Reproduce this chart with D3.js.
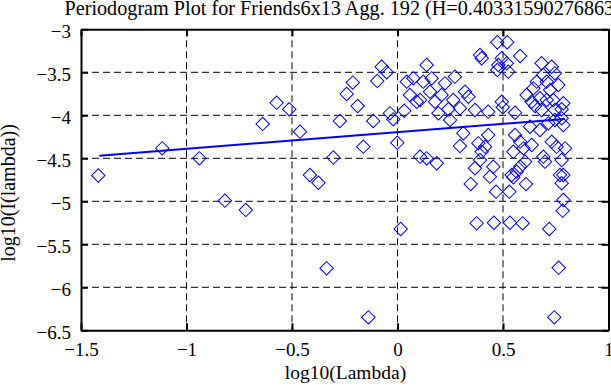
<!DOCTYPE html>
<html>
<head>
<meta charset="utf-8">
<script src="https://cdn.jsdelivr.net/npm/d3@7"></script>
<style>
  body { margin: 0; background: #fff; }
  svg { display: block; }
  text { font-family: "Liberation Serif", "Times New Roman", serif; fill: #000; }
</style>
</head>
<body>
<div id="chart"></div>
<script>
// periodogram points
const logLambda = [
  -1.418, -1.115, -0.939, -0.818, -0.719, -0.639, -0.573, -0.513, -0.462, -0.415,
  -0.375, -0.336, -0.304, -0.273, -0.241, -0.212, -0.189, -0.162, -0.138, -0.115,
  -0.096, -0.075, -0.051, -0.036, -0.020, -0.001, 0.015, 0.032, 0.044, 0.059,
  0.075, 0.091, 0.107, 0.107, 0.122, 0.138, 0.138, 0.154, 0.162, 0.178,
  0.186, 0.194, 0.209, 0.225, 0.241, 0.249, 0.264, 0.272, 0.296, 0.296,
  0.312, 0.320, 0.336, 0.347, 0.367, 0.367, 0.375, 0.383, 0.391, 0.399,
  0.399, 0.391, 0.415, 0.430, 0.430, 0.438, 0.454, 0.457, 0.467, 0.473,
  0.478, 0.473, 0.494, 0.494, 0.499, 0.518, 0.520, 0.525, 0.530, 0.533,
  0.541, 0.549, 0.549, 0.557, 0.557, 0.565, 0.581, 0.581, 0.581, 0.593,
  0.597, 0.605, 0.609, 0.612, 0.628, 0.636, 0.636, 0.644, 0.652, 0.660,
  0.675, 0.675, 0.683, 0.683, 0.691, 0.691, 0.699, 0.707, 0.707, 0.715,
  0.719, 0.723, 0.731, 0.731, 0.738, 0.743, 0.746, 0.746, 0.746, 0.754,
  0.762, 0.764, 0.770, 0.778, 0.778, 0.778, 0.778, 0.783, 0.786, 0.786,
  0.786, 0.794, 0.786
]
const logI = [
  -4.700, -4.384, -4.500, -4.993, -5.100, -4.100, -3.853, -3.930, -4.190, -4.694,
  -4.784, -5.779, -4.490, -4.066, -3.752, -3.620, -3.892, -4.365, -6.349, -4.066,
  -3.600, -3.435, -3.500, -3.977, -4.047, -4.318, -5.322, -3.947, -3.609, -3.764,
  -3.570, -3.842, -4.481, -3.822, -3.609, -3.415, -4.500, -3.725, -3.570, -3.842,
  -4.558, -3.977, -3.764, -3.628, -3.930, -4.055, -3.822, -3.551, -3.919, -4.357,
  -4.209, -3.725, -3.784, -4.800, -3.938, -4.616, -5.256, -4.326, -3.299, -3.337,
  -4.423, -4.520, -4.365, -3.958, -4.229, -4.714, -4.598, -5.249, -4.888, -3.151,
  -3.415, -3.473, -3.337, -3.842, -3.907, -3.395, -3.151, -3.493, -4.888, -5.249,
  -4.694, -4.720, -4.423, -3.970, -4.229, -4.655, -3.310, -4.307, -4.598, -5.256,
  -4.384, -4.539, -4.800, -3.764, -4.133, -3.842, -4.345, -3.686, -3.892, -3.609,
  -3.802, -4.171, -3.395, -3.938, -3.531, -4.481, -4.539, -3.609, -3.822, -4.093,
  -5.322, -3.706, -3.435, -4.307, -3.822, -6.349, -3.512, -3.938, -4.055, -4.365,
  -3.648, -5.772, -4.694, -3.930, -4.035, -4.520, -4.790, -5.109, -4.985, -3.860,
  -4.113, -4.384, -4.694
]

// least squares fit ends
const fitLambda = [-1.413, 0.794]
const fitI = [-4.470, -4.043]

const xTicks = [-1.5, -1, -0.5, 0, 0.5, 1]
const yTicks = [-6.5, -6, -5.5, -5, -4.5, -4, -3.5, -3]
const title = 'Periodogram Plot for Friends6x13 Agg. 192 (H=0.403315902768634)'

const W = 611, H = 385
const margin = { top: 29.3, right: 2.5, bottom: 54.7, left: 81 }
const iw = W - margin.left - margin.right
const ih = H - margin.top - margin.bottom

const svg = d3.select('#chart').append('svg')
  .attr('width', W)
  .attr('height', H)

const x = d3.scaleLinear().domain([-1.5, 1]).range([margin.left, margin.left + iw])
const y = d3.scaleLinear().domain([-6.5, -3]).range([margin.top + ih, margin.top])

const fmt = (d) => String(d).replace('-', '\u2212')

// dashed grid
const grid = svg.append('g').attr('class', 'grid')
grid.selectAll('.gx').data(xTicks.slice(1, -1)).enter().append('line')
  .attr('x1', (d) => x(d)).attr('x2', (d) => x(d))
  .attr('y1', y(-3)).attr('y2', y(-6.5))
  .attr('stroke', '#000').attr('stroke-width', 1).attr('stroke-dasharray', '7,4')
grid.selectAll('.gy').data(yTicks.slice(1, -1)).enter().append('line')
  .attr('y1', (d) => y(d)).attr('y2', (d) => y(d))
  .attr('x1', x(-1.5)).attr('x2', x(1))
  .attr('stroke', '#000').attr('stroke-width', 1).attr('stroke-dasharray', '7,4')

// axes with inward ticks
const tl = 7
const serif = '"Liberation Serif", "Times New Roman", serif'
svg.append('g')
  .attr('transform', `translate(0,${y(-6.5)})`)
  .call(d3.axisBottom(x).tickValues(xTicks).tickSizeInner(-tl).tickSizeOuter(0).tickPadding(tl + 5).tickFormat(fmt))
svg.append('g')
  .attr('transform', `translate(0,${y(-3)})`)
  .call(d3.axisTop(x).tickValues(xTicks).tickSizeInner(-tl).tickSizeOuter(0).tickFormat(''))
const yAxis = svg.append('g')
  .attr('transform', `translate(${x(-1.5)},0)`)
  .call(d3.axisLeft(y).tickValues(yTicks).tickSizeInner(-tl).tickSizeOuter(0).tickPadding(tl + 3).tickFormat(fmt))
yAxis.selectAll('.tick text').attr('dy', '0.45em')
svg.append('g')
  .attr('transform', `translate(${x(1)},0)`)
  .call(d3.axisRight(y).tickValues(yTicks).tickSizeInner(-tl).tickSizeOuter(0).tickFormat(''))

svg.selectAll('.domain').attr('stroke', '#000').attr('stroke-width', 2)
svg.selectAll('.tick line').attr('stroke', '#000').attr('stroke-width', 2)
svg.selectAll('g').filter(function () { return this.hasAttribute('font-family') })
  .attr('font-family', serif).attr('font-size', 19)
svg.selectAll('.tick text')
  .attr('fill', '#000')
  .style('font-size', '19px')
  .style('font-family', serif)

// diamonds
const pts = logLambda.map((d, i) => ({ lx: d, ly: logI[i] }))
const diamond = d3.symbol().type(d3.symbolSquare).size(90)
svg.append('g').selectAll('path').data(pts).enter().append('path')
  .attr('d', diamond)
  .attr('transform', (d) => `translate(${x(d.lx)},${y(d.ly)}) rotate(45)`)
  .attr('fill', 'none')
  .attr('stroke', '#0000ff')
  .attr('stroke-width', 1)

// fit line
svg.append('path')
  .datum(fitLambda.map((d, i) => [d, fitI[i]]))
  .attr('d', d3.line().x((d) => x(d[0])).y((d) => y(d[1])))
  .attr('fill', 'none')
  .attr('stroke', '#0000ff')
  .attr('stroke-width', 2)

// labels
svg.append('text')
  .attr('x', 64.5).attr('y', 15)
  .style('font-size', '20.2px')
  .text(title)
svg.append('text')
  .attr('x', 345.5).attr('y', 379)
  .attr('text-anchor', 'middle')
  .style('font-size', '19.5px')
  .text('log10(Lambda)')
svg.append('text')
  .attr('transform', 'translate(15,193) rotate(-90)')
  .attr('text-anchor', 'middle')
  .style('font-size', '20px')
  .text('log10(I(lambda))')
</script>
</body>
</html>
